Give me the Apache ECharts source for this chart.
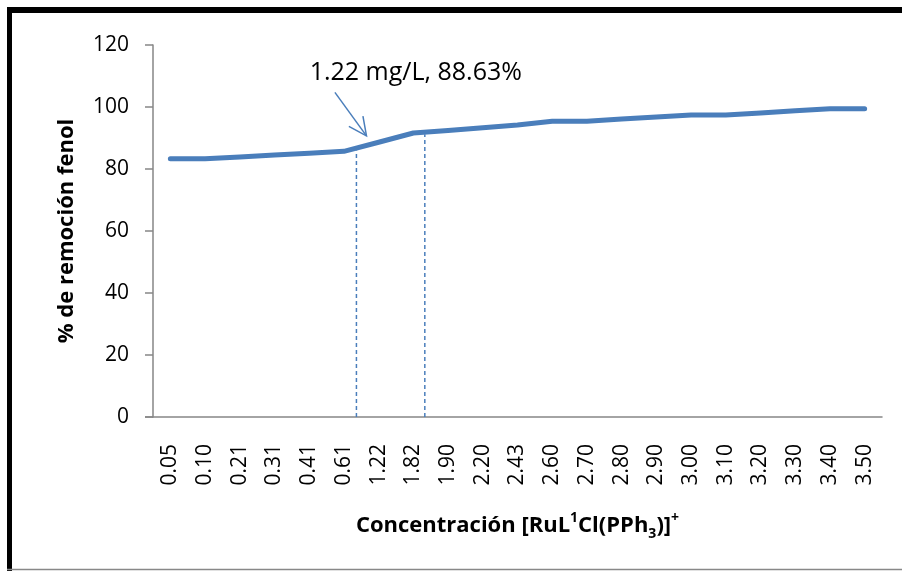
<!DOCTYPE html>
<html>
<head>
<meta charset="utf-8">
<script src="https://cdn.jsdelivr.net/npm/echarts@6/dist/echarts.min.js"></script>
<style>
html,body{margin:0;padding:0;background:#fff;}
#chart{width:902px;height:571px;}
</style>
</head>
<body>
<div id="chart"></div>
<script>
// Data
var categories = ['0.05','0.10','0.21','0.31','0.41','0.61','1.22','1.82','1.90','2.20','2.43','2.60','2.70','2.80','2.90','3.00','3.10','3.20','3.30','3.40','3.50'];
var removal = [83.3,83.3,83.9,84.5,85.1,85.7,88.63,91.6,92.4,93.3,94.2,95.4,95.4,96.1,96.8,97.4,97.4,98.1,98.8,99.4,99.4];
var yTicks = [0,20,40,60,80,100,120];
// Annotation (in category-index units, value units)
var annotationText = '1.22 mg/L, 88.63%';
var dropLine1 = [[5.36, 0], [5.36, 86]];
var dropLine2 = [[7.33, 0], [7.33, 91.2]];
var arrowTail = [4.74, 104.7];
var arrowHead = [5.65, 90.7];
var labelPos = [7.07, 111.0];

var FONT = '"Open Sans", "Liberation Sans", sans-serif';
var BLUE = '#4a7ebb';
var chart = echarts.init(document.getElementById('chart'));

var option = {
  animation: false,
  backgroundColor: '#fff',
  grid: {left: 153, right: 20, top: 45, bottom: 154},
  xAxis: [{
    type: 'category',
    data: categories,
    boundaryGap: true,
    axisLine: {onZero: false, lineStyle: {color: '#868686', width: 1.5}},
    axisTick: {show: false},
    axisLabel: {rotate: 90, margin: 27, fontFamily: FONT, fontSize: 21, color: '#000'},
    name: 'Concentración [RuL{sup|1}Cl(PPh{sub|3})]{sup|+}',
    nameLocation: 'middle',
    nameGap: 94,
    nameMoveOverlap: false,
    nameTextStyle: {
      fontFamily: FONT, fontSize: 22, fontWeight: 'bold', color: '#000', lineHeight: 30,
      rich: {
        sup: {fontFamily: FONT, fontSize: 14, fontWeight: 'bold', color: '#000', verticalAlign: 'top', lineHeight: 15},
        sub: {fontFamily: FONT, fontSize: 14, fontWeight: 'bold', color: '#000', verticalAlign: 'bottom', lineHeight: 15}
      }
    }
  }, {
    type: 'value', min: -0.5, max: 20.5, show: false
  }],
  yAxis: {
    type: 'value', min: 0, max: 120, interval: 20,
    axisLine: {show: true, onZero: false, lineStyle: {color: '#868686', width: 1.5}},
    axisTick: {show: true, length: 8, lineStyle: {color: '#868686', width: 1.5}},
    splitLine: {show: false},
    axisLabel: {margin: 24, fontFamily: FONT, fontSize: 21, color: '#000'},
    name: '% de remoción fenol',
    nameLocation: 'middle',
    nameRotate: 90,
    nameGap: 75,
    nameMoveOverlap: false,
    nameTextStyle: {fontFamily: FONT, fontSize: 22, fontWeight: 'bold', color: '#000'}
  },
  series: [{
    type: 'line',
    data: removal,
    symbol: 'none',
    lineStyle: {color: BLUE, width: 5, cap: 'round', join: 'round'},
    z: 3
  }, {
    type: 'line', xAxisIndex: 1, data: dropLine1, symbol: 'none',
    lineStyle: {color: BLUE, width: 1.5, type: [4, 3]}, z: 2
  }, {
    type: 'line', xAxisIndex: 1, data: dropLine2, symbol: 'none',
    lineStyle: {color: BLUE, width: 1.5, type: [4, 3]}, z: 2
  }]
};
chart.setOption(option);

function px(p) { return chart.convertToPixel({xAxisIndex: 1, yAxisIndex: 0}, p); }
var t = px(arrowTail), h = px(arrowHead), lp = px(labelPos);
var ang = Math.atan2(h[1] - t[1], h[0] - t[0]);
var wl = 20, wa = 0.45;
var w1 = [h[0] - wl * Math.cos(ang - wa), h[1] - wl * Math.sin(ang - wa)];
var w2 = [h[0] - wl * Math.cos(ang + wa), h[1] - wl * Math.sin(ang + wa)];
var y0 = chart.convertToPixel({yAxisIndex: 0}, 0);

chart.setOption({
  graphic: [
    {type: 'rect', shape: {x: 7, y: 7, width: 895, height: 6}, style: {fill: '#000'}, silent: true},
    {type: 'rect', shape: {x: 7, y: 7, width: 5, height: 564}, style: {fill: '#000'}, silent: true},
    {type: 'line', shape: {x1: 7, y1: 569.5, x2: 902, y2: 569.5}, style: {stroke: '#888', lineWidth: 1.5}, silent: true},
    {type: 'line', shape: {x1: 145, y1: y0, x2: 153, y2: y0}, style: {stroke: '#868686', lineWidth: 1.5}, silent: true},
    {type: 'line', shape: {x1: t[0], y1: t[1], x2: h[0], y2: h[1]}, style: {stroke: BLUE, lineWidth: 1.5}, silent: true},
    {type: 'polyline', shape: {points: [w1, h, w2]}, style: {stroke: BLUE, lineWidth: 1.5, fill: null}, silent: true},
    {type: 'text', x: lp[0], y: lp[1], style: {text: annotationText, fontFamily: FONT, fontSize: 25, fill: '#000', align: 'center', verticalAlign: 'middle'}, silent: true}
  ]
});
</script>
</body>
</html>
